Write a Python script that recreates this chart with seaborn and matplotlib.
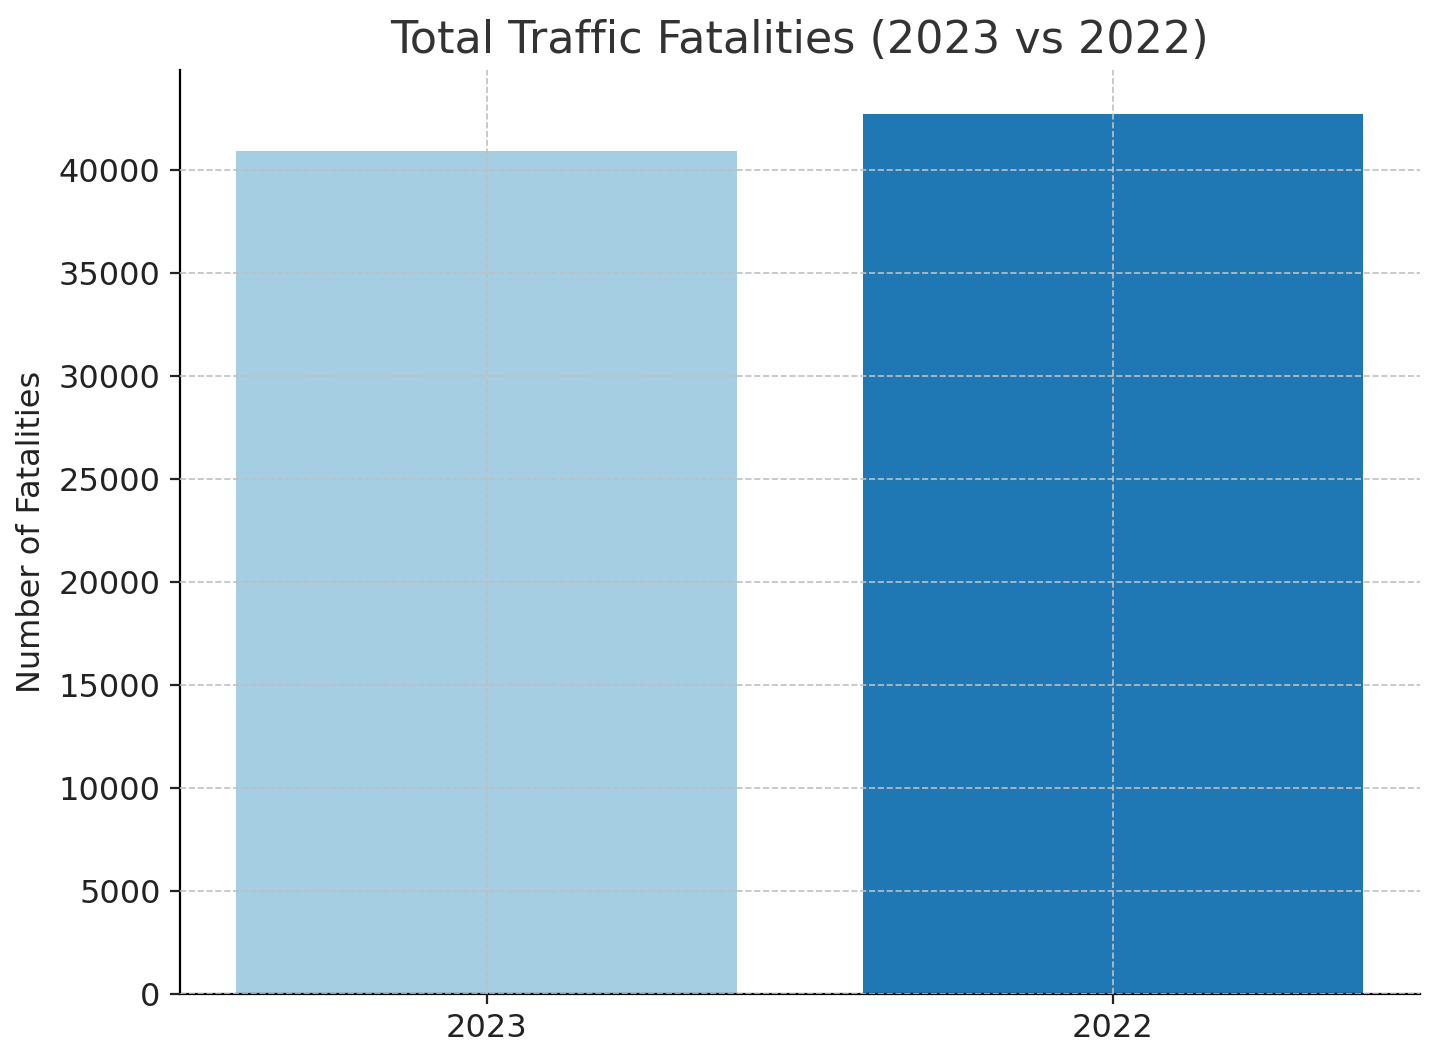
import matplotlib
matplotlib.use("Agg")
import matplotlib.pyplot as plt
import seaborn as sns
import pandas as pd

years = ["2023", "2022"]
fatalities = [40900, 42720]
colors = ["#a6cee3", "#1f78b4"]

df = pd.DataFrame({"Year": years, "Fatalities": fatalities})
fig, ax = plt.subplots(figsize=(7.2, 5.285), dpi=200)
sns.barplot(data=df, x="Year", y="Fatalities", hue="Year", palette=colors,
            width=0.8, saturation=1, legend=False, ax=ax, zorder=2)
ax.grid(True, linestyle="--", color="#c0c0c0", linewidth=0.6, zorder=0)
ax.set_axisbelow(False)
for b in ax.patches:
    b.set_zorder(1)
ax.set_xlim(-0.49, 1.49)
ax.set_ylim(0, 44850)
ax.set_title("Total Traffic Fatalities (2023 vs 2022)", fontsize=16, color="#333333")
ax.set_ylabel("Number of Fatalities", fontsize=11.5, color="#222222")
ax.set_xlabel("")
ax.tick_params(labelsize=11.5, colors="#222222")
ax.spines["top"].set_visible(False)
ax.spines["right"].set_visible(False)
fig.subplots_adjust(left=0.125, right=0.986, top=0.934, bottom=0.06)
fig.savefig("out.png", dpi=200)
